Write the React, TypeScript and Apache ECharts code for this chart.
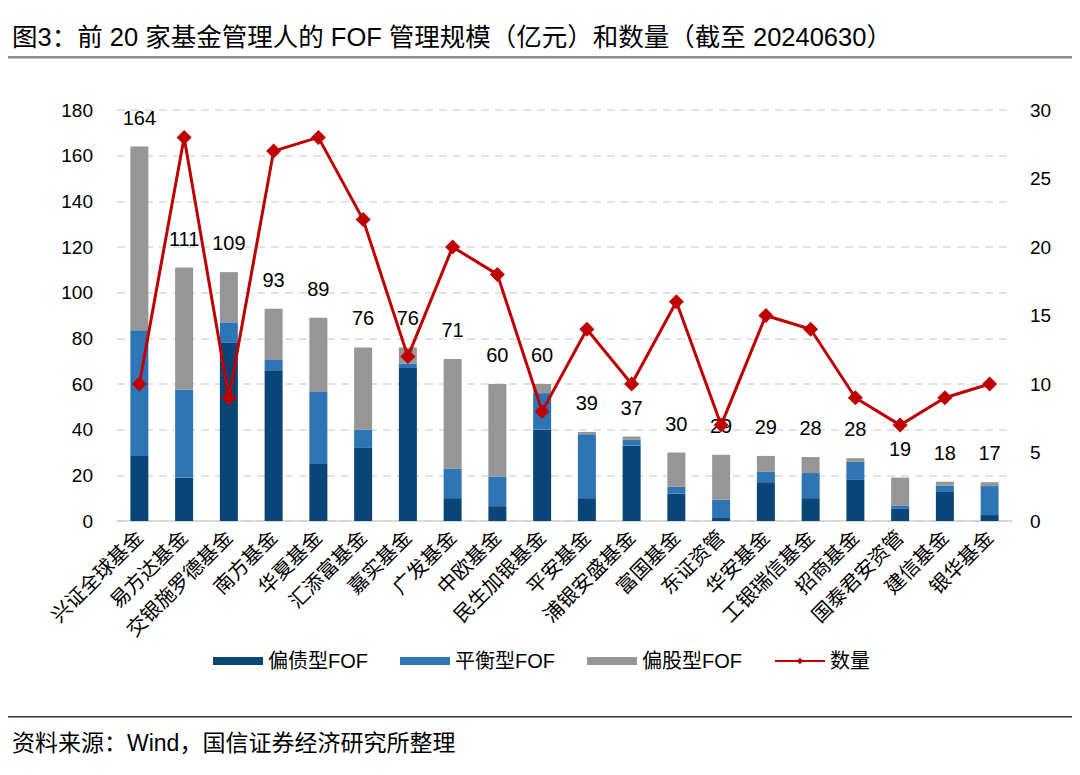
import React, { useEffect, useRef } from "react";
import * as echarts from "echarts";

const categories = [
  "兴证全球基金", "易方达基金", "交银施罗德基金", "南方基金", "华夏基金",
  "汇添富基金", "嘉实基金", "广发基金", "中欧基金", "民生加银基金",
  "平安基金", "浦银安盛基金", "富国基金", "东证资管", "华安基金",
  "工银瑞信基金", "招商基金", "国泰君安资管", "建信基金", "银华基金",
];
const debtFof = [28.5, 19, 78, 66, 25, 32, 67, 10, 6.5, 40, 10, 33, 12, 1.3, 17, 10, 18, 5.3, 12.7, 2.6];
const balancedFof = [55, 38.5, 9, 4.5, 31.5, 8, 2, 13, 13, 16, 28, 2.5, 3, 8, 4.5, 11, 8, 1.3, 2.8, 12.7];
const equityFof = [80.5, 53.5, 22, 22.5, 32.5, 36, 7, 48, 40.5, 4, 1, 1.5, 15, 19.7, 7, 7, 1.5, 12.4, 1.7, 1.7];
const totals = [164, 111, 109, 93, 89, 76, 76, 71, 60, 60, 39, 37, 30, 29, 29, 28, 28, 19, 18, 17];
const counts = [10, 28, 9, 27, 28, 22, 12, 20, 18, 8, 14, 10, 16, 7, 15, 14, 9, 7, 9, 10];
const leftTicks = { min: 0, max: 180, interval: 20 };
const rightTicks = { min: 0, max: 30, interval: 5 };

const FONT = "'Liberation Sans', 'Noto Sans CJK SC', sans-serif";

export default function App() {
  const ref = useRef<HTMLDivElement>(null);
  useEffect(() => {
    document.body.style.margin = "0";
    const chart = echarts.init(ref.current!, null, { renderer: "svg" });
    chart.setOption({
      animation: false,
      textStyle: { fontFamily: FONT },
      grid: { left: 117, right: 68, top: 110, bottom: 254, containLabel: false },
      graphic: [
        {
          type: "text", left: 12, top: 24,
          style: {
            text: "图3：前 20 家基金管理人的 FOF 管理规模（亿元）和数量（截至 20240630）",
            fontSize: 25.5, fill: "#000", fontFamily: FONT,
          },
        },
        { type: "rect", shape: { x: 8, y: 56, width: 1064, height: 2.5 }, style: { fill: "#8c8c8c" } },
        { type: "rect", shape: { x: 8, y: 716, width: 1064, height: 1.5 }, style: { fill: "#333" } },
        {
          type: "text", left: 12, top: 731,
          style: { text: "资料来源：Wind，国信证券经济研究所整理", fontSize: 23, fill: "#000", fontFamily: FONT },
        },
      ],
      legend: {
        left: 213, top: 651, padding: 0,
        itemWidth: 50, itemHeight: 8, itemGap: 32,
        textStyle: { fontSize: 20, color: "#000", fontFamily: FONT },
        data: [
          { name: "偏债型FOF", icon: "rect" },
          { name: "平衡型FOF", icon: "rect" },
          { name: "偏股型FOF", icon: "rect" },
          { name: "数量" },
        ],
      },
      xAxis: {
        type: "category",
        data: categories,
        axisTick: { show: false },
        axisLine: { lineStyle: { color: "#d0d0d0", width: 1.5 } },
        axisLabel: { rotate: 45, fontSize: 20, color: "#000", margin: 13, interval: 0 },
      },
      yAxis: [
        {
          type: "value", ...leftTicks,
          axisLabel: { fontSize: 19, color: "#000", margin: 24 },
          splitLine: { lineStyle: { color: "#d9d9d9", type: [8, 6], width: 1.5 } },
          axisLine: { show: false }, axisTick: { show: false },
        },
        {
          type: "value", ...rightTicks,
          axisLabel: { fontSize: 19, color: "#000", margin: 18 },
          splitLine: { show: false },
          axisLine: { show: false }, axisTick: { show: false },
        },
      ],
      series: [
        { name: "偏债型FOF", type: "bar", stack: "a", data: debtFof, barWidth: 18, itemStyle: { color: "#0a4577" } },
        { name: "平衡型FOF", type: "bar", stack: "a", data: balancedFof, barWidth: 18, itemStyle: { color: "#2e75b6" } },
        {
          name: "偏股型FOF", type: "bar", stack: "a", data: equityFof, barWidth: 18,
          itemStyle: { color: "#969696" },
          label: {
            show: true, position: "top", distance: 19, fontSize: 20, color: "#000",
            formatter: (p: any) => String(totals[p.dataIndex]),
          },
        },
        {
          name: "数量", type: "line", yAxisIndex: 1, data: counts,
          symbol: "diamond", symbolSize: 15,
          lineStyle: { color: "#c00000", width: 3 },
          itemStyle: { color: "#c00000" },
          z: 5,
        },
      ],
    });
    return () => chart.dispose();
  }, []);
  return <div ref={ref} style={{ width: 1080, height: 775 }} />;
}
